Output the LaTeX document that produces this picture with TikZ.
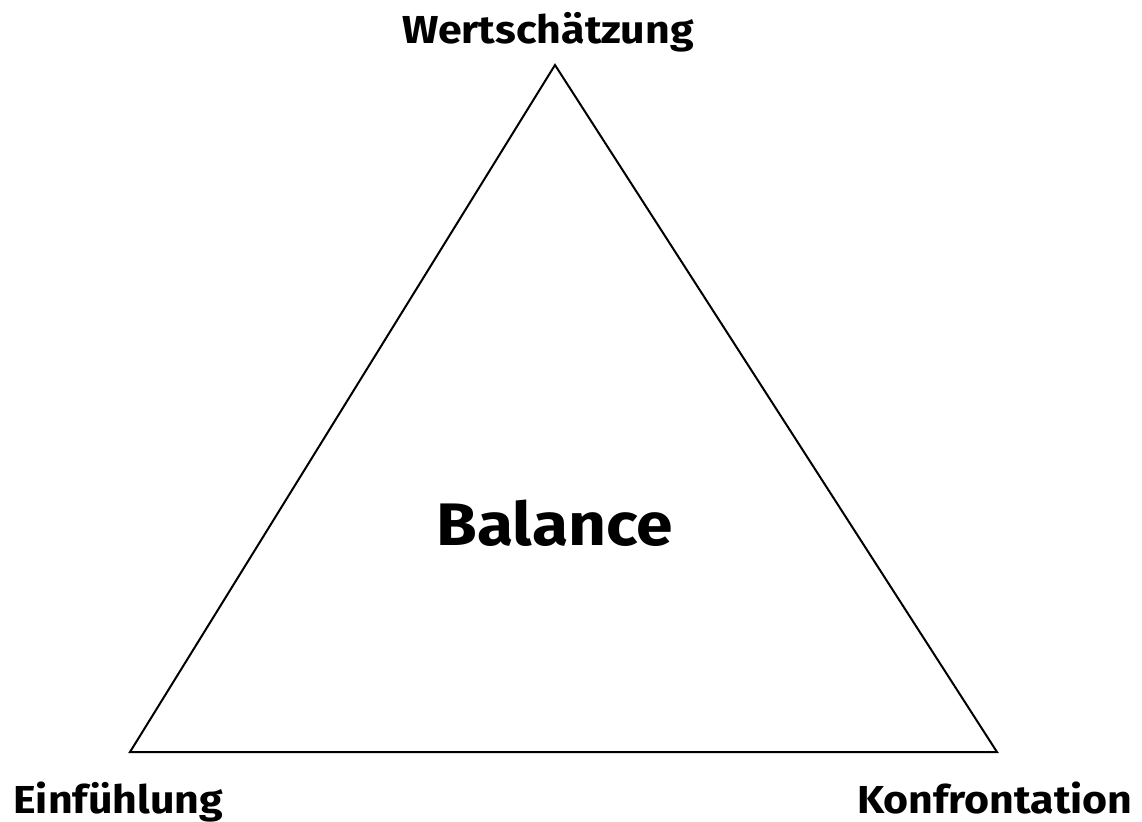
\documentclass[tikz,border=0pt]{standalone}
\usepackage{fontspec}
\setmainfont{Fira Sans}
\newfontfamily\labelfont{Fira Sans}[FakeStretch=1.1]
\tikzset{
    corner/.style ={
        font=\labelfont\fontsize{19.5}{22}\selectfont\bfseries,
        inner sep=0pt
    },
    middle/.style ={
        font=\labelfont\fontsize{30}{34}\selectfont\bfseries,
        inner sep=0pt
    },
    side/.style ={
        draw=black,
        line width=1pt
    }
}

\begin{document}
\begin{tikzpicture}[x=0.5pt,y=-0.5pt]
    \useasboundingbox (0,0) rectangle (1142,821);
    \coordinate (top) at (555,65);
    \coordinate (left) at (130,752);
    \coordinate (right) at (997,752);
    \node[corner,anchor=base] (w) at (548,43) {Wertschätzung};
    \node[middle,anchor=base] (b) at (555,545) {Balance};
    \node[corner,anchor=base west] (e) at (13,813) {Einfühlung};
    \node[corner,anchor=base east] (k) at (1133,813) {Konfrontation};
    \draw[side] (top)--(left)--(right)--cycle;
\end{tikzpicture}
\end{document}
